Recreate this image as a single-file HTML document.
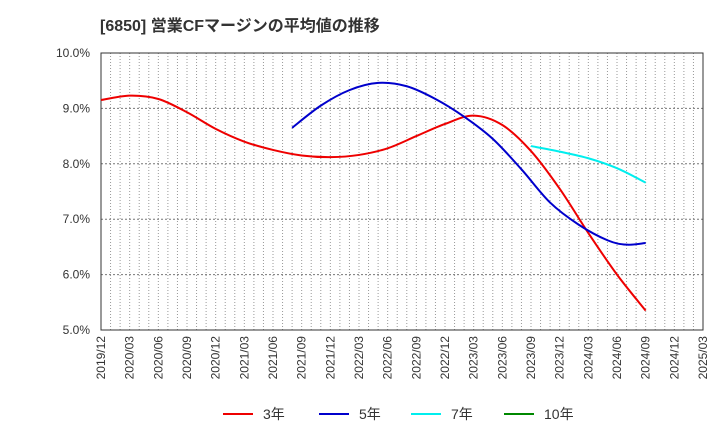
<!DOCTYPE html>
<html><head><meta charset="utf-8"><style>
body{margin:0;background:#fff;font-family:"Liberation Sans","Noto Sans CJK JP",sans-serif}
</style></head><body>
<svg id="c" width="720" height="440" style="display:block"></svg>
<script>
const xLabels=["2019/12","2020/03","2020/06","2020/09","2020/12","2021/03","2021/06","2021/09","2021/12","2022/03","2022/06","2022/09","2022/12","2023/03","2023/06","2023/09","2023/12","2024/03","2024/06","2024/09","2024/12","2025/03"];
const yTicks=[5,6,7,8,9,10];
const s3Months=[0,3,6,9,12,15,18,21,24,27,30,33,36,39,42,45,48,51,54,57];
const s3Values=[9.15,9.23,9.17,8.93,8.63,8.40,8.25,8.15,8.12,8.16,8.28,8.50,8.72,8.87,8.70,8.23,7.55,6.75,6.00,5.35];
const s5Months=[20,23,26,29,32,35,38,41,44,47,50,53,55,57];
const s5Values=[8.65,9.05,9.33,9.46,9.40,9.17,8.85,8.45,7.90,7.30,6.90,6.62,6.54,6.57];
const s7Months=[45,48,51,54,57];
const s7Values=[8.32,8.22,8.10,7.92,7.66];
const NS="http://www.w3.org/2000/svg";
const svg=document.getElementById('c');
const L=101,R=703,T=53,B=330;
const xs=m=>L+m*(R-L)/63;
const ys=v=>B-(v-5)*(B-T)/5;
function mk(t,a,p){const e=document.createElementNS(NS,t);for(const k in a)e.setAttribute(k,a[k]);(p||svg).appendChild(e);return e;}
let t=mk('text',{x:100,y:31,'font-size':16,'font-weight':'bold',fill:'#333'});t.textContent='[6850]  営業CFマージンの平均値の推移';

mk('rect',{x:L,y:T,width:R-L,height:B-T,fill:'#fff',stroke:'none'});
for(let m=1;m<63;m++){const g=mk('line',{x1:xs(m),x2:xs(m),y1:T,y2:B,stroke:'#999','stroke-dasharray':'1,2','stroke-width':1});
}
yTicks.forEach(v=>{if(v>5&&v<10){const g=mk('line',{x1:L,x2:R,y1:ys(v),y2:ys(v),stroke:'#777','stroke-dasharray':'2,2'});}
const l=mk('text',{x:90,y:ys(v)+4,'text-anchor':'end','font-size':12,fill:'#333'});l.textContent=v.toFixed(1)+'%';
});
const fr=mk('rect',{x:L,y:T,width:R-L,height:B-T,fill:'none',stroke:'#333'});

xLabels.forEach((s,i)=>{const x=xs(i*3);const l=mk('text',{transform:`translate(${x+4},${B+6}) rotate(-90)`,'text-anchor':'end','font-size':12,fill:'#333'});l.textContent=s;
});
function path(ms,vs){const p=ms.map((m,i)=>[xs(m),ys(vs[i])]);let d=`M${p[0][0]},${p[0][1]}`;
for(let i=0;i<p.length-1;i++){const p0=p[i-1]||p[i],p1=p[i],p2=p[i+1],p3=p[i+2]||p2;
d+=` C${p1[0]+(p2[0]-p0[0])/6},${p1[1]+(p2[1]-p0[1])/6} ${p2[0]-(p3[0]-p1[0])/6},${p2[1]-(p3[1]-p1[1])/6} ${p2[0]},${p2[1]}`;}return d;}
[[s3Months,s3Values,'#e00','series-3yr'],[s5Months,s5Values,'#00c','series-5yr'],[s7Months,s7Values,'#0ee','series-7yr']].forEach(([m,v,c,n])=>{
const e=mk('path',{d:path(m,v),fill:'none',stroke:c,'stroke-width':2});});
[['3年','#e00',223],['5年','#00c',319],['7年','#0ee',411],['10年','#080',504]].forEach(([s,c,x])=>{
const g=mk('g',{});
mk('line',{x1:x,x2:x+30,y1:414,y2:414,stroke:c,'stroke-width':2},g);
const l=mk('text',{x:x+40,y:419,'font-size':14,fill:'#333'},g);l.textContent=s;});
</script>
</body></html>
